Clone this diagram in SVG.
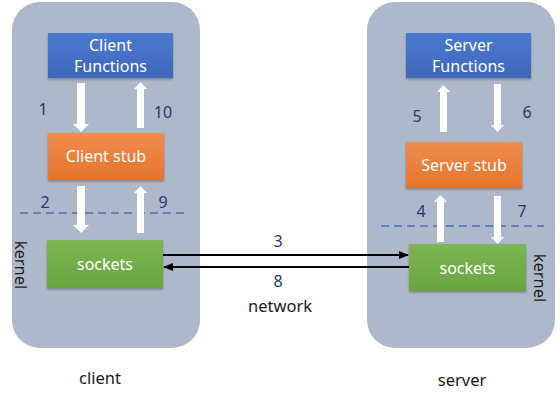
<svg xmlns="http://www.w3.org/2000/svg" width="560" height="401" viewBox="0 0 560 401">
<defs>
<style>
.panel{fill:#ADB8CA}
.boxtxt{font-family:"Noto Sans","Liberation Sans",sans-serif;font-size:16px;fill:#FFFFFF;text-anchor:middle}
.num{font-family:"Noto Sans","Liberation Sans",sans-serif;font-size:16px;fill:#223A6E;text-anchor:middle}
.lbl{font-family:"Noto Sans","Liberation Sans",sans-serif;font-size:16.5px;fill:#1A1A1A;text-anchor:middle}
.dash{stroke:#4A6CC0;stroke-width:1.5;stroke-dasharray:8 5;fill:none}
.warrow{fill:#FFFFFF}
.link{stroke:#000000;stroke-width:2;fill:none}
</style>
<linearGradient id="gBlue" x1="0" y1="0" x2="0" y2="1"><stop offset="0" stop-color="#4B7AD2"/><stop offset="1" stop-color="#3E66B8"/></linearGradient>
<linearGradient id="gOrange" x1="0" y1="0" x2="0" y2="1"><stop offset="0" stop-color="#F08C4E"/><stop offset="1" stop-color="#E4752E"/></linearGradient>
<linearGradient id="gGreen" x1="0" y1="0" x2="0" y2="1"><stop offset="0" stop-color="#7DB653"/><stop offset="1" stop-color="#68A540"/></linearGradient>
<filter id="sh" x="-10%" y="-10%" width="120%" height="130%"><feDropShadow dx="0" dy="1.5" stdDeviation="1" flood-color="#000" flood-opacity="0.3"/></filter>
<marker id="ah" markerWidth="10" markerHeight="8" refX="9" refY="4" orient="auto" markerUnits="userSpaceOnUse"><path d="M0,0 L10,4 L0,8 Z" fill="#000"/></marker>
</defs>
<rect width="560" height="401" fill="#FFFFFF"/>
<g id="client-panel"><rect class="panel" x="12" y="2" width="188" height="346" rx="28"/></g>
<g id="server-panel"><rect class="panel" x="367" y="2" width="188" height="346" rx="28"/></g>
<line class="dash" x1="20" y1="213" x2="184" y2="213"/>
<line class="dash" x1="381" y1="226" x2="544" y2="226"/>
<g id="client-functions"><rect x="48" y="33" width="125" height="45" fill="url(#gBlue)" filter="url(#sh)"/><text class="boxtxt" x="110.5" y="51">Client</text><text class="boxtxt" x="110.5" y="72">Functions</text></g>
<g id="client-stub"><rect x="48" y="133" width="116" height="47" fill="url(#gOrange)" filter="url(#sh)"/><text class="boxtxt" x="106" y="162">Client stub</text></g>
<g id="client-sockets"><rect x="47" y="240" width="116" height="48" fill="url(#gGreen)" filter="url(#sh)"/><text class="boxtxt" x="105" y="270">sockets</text></g>
<g id="server-functions"><rect x="406" y="33" width="125" height="45" fill="url(#gBlue)" filter="url(#sh)"/><text class="boxtxt" x="468.5" y="51">Server</text><text class="boxtxt" x="468.5" y="72">Functions</text></g>
<g id="server-stub"><rect x="406" y="142" width="116" height="46" fill="url(#gOrange)" filter="url(#sh)"/><text class="boxtxt" x="464" y="171">Server stub</text></g>
<g id="server-sockets"><rect x="409" y="244" width="117" height="47" fill="url(#gGreen)" filter="url(#sh)"/><text class="boxtxt" x="467.5" y="274">sockets</text></g>
<g id="connectors">
<polygon class="warrow" points="77,83 85,83 85,124 89,124 81,132 73,124 77,124"/>
<polygon class="warrow" points="137,128 144,128 144,89 147,89 140.5,82 134,89 137,89"/>
<polygon class="warrow" points="77,186 85,186 85,225 89,225 81,233 73,225 77,225"/>
<polygon class="warrow" points="137,233 144,233 144,193 147,193 140.5,186 134,193 137,193"/>
<polygon class="warrow" points="440,132 447,132 447,92 450,92 443.5,85 437,92 440,92"/>
<polygon class="warrow" points="494,84 501,84 501,125 504,125 497.5,132 491,125 494,125"/>
<polygon class="warrow" points="437,242 444,242 444,202 447,202 440.5,195 434,202 437,202"/>
<polygon class="warrow" points="494,196 501,196 501,237 504,237 497.5,244 491,237 494,237"/>
<line class="link" x1="163" y1="255" x2="408" y2="255" marker-end="url(#ah)"/>
<line class="link" x1="409" y1="267" x2="164" y2="267" marker-end="url(#ah)"/>
</g>
<g id="labels">
<text class="num" x="43" y="115">1</text>
<text class="num" x="163" y="118">10</text>
<text class="num" x="45" y="208">2</text>
<text class="num" x="163" y="208">9</text>
<text class="num" x="278" y="247">3</text>
<text class="num" x="278" y="287">8</text>
<text class="num" x="421" y="217">4</text>
<text class="num" x="417" y="122">5</text>
<text class="num" x="527" y="118">6</text>
<text class="num" x="522" y="217">7</text>
<text class="lbl" x="280" y="312">network</text>
<text class="lbl" x="100" y="384">client</text>
<text class="lbl" x="462" y="386">server</text>
<text class="lbl" transform="translate(15,265) rotate(90)" x="0" y="0">kernel</text>
<text class="lbl" transform="translate(534,278) rotate(90)" x="0" y="0">kernel</text>
</g>
</svg>
